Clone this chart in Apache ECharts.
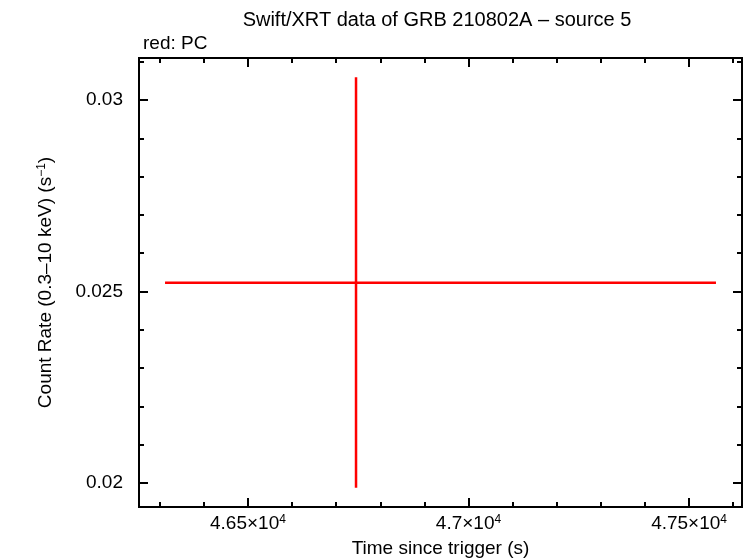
<!DOCTYPE html>
<html>
<head>
<meta charset="utf-8">
<script src="https://cdn.jsdelivr.net/npm/echarts@6/dist/echarts.min.js"></script>
<style>html,body{margin:0;padding:0;background:#fff}#c{width:746px;height:558px}</style>
</head>
<body>
<div id="c"></div>
<script>
// ---- data ----
const pointX = [46745];
const pointXLow = [46312];
const pointXHigh = [47561];
const pointY = [0.02523];
const pointYLow = [0.01987];
const pointYHigh = [0.0306];

const xMajorTicks = [46500, 47000, 47500];
const xTickMantissa = ['4.65', '4.7', '4.75'];
const xMinorTicks = [46300, 46400, 46600, 46700, 46800, 46900, 47100, 47200, 47300, 47400, 47600];
const yMajorTicks = [0.02, 0.025, 0.03];
const yTickLabels = ['0.02', '0.025', '0.03'];
const yMinorTicks = [0.021, 0.022, 0.023, 0.024, 0.026, 0.027, 0.028, 0.029, 0.031];

const xRange = [46253, 47620];
const yRange = [0.01937, 0.0311];

const FONT = 'Liberation Sans, Arial, Helvetica, sans-serif';
const FS = 19;
const SUP = 12;

const chart = echarts.init(document.getElementById('c'), null, {renderer: 'canvas'});

function xAxisDef(pos, ticks, len, showLabel, withName) {
  const a = {
    type: 'value', position: pos, min: xRange[0], max: xRange[1],
    splitLine: {show: false},
    axisLine: {show: true, onZero: false, lineStyle: {color: '#000', width: 2}},
    axisTick: {show: true, inside: true, length: len, lineStyle: {color: '#000', width: 2}, customValues: ticks},
    axisLabel: {show: showLabel, customValues: ticks, margin: 7, color: '#000', fontFamily: FONT, fontSize: FS,
      formatter: function (v) {
        const i = xMajorTicks.indexOf(v);
        return i >= 0 ? '{b|' + xTickMantissa[i] + '×10}{s|4}' : '';
      },
      rich: {
        b: {fontFamily: FONT, fontSize: FS, color: '#000'},
        s: {fontFamily: FONT, fontSize: SUP, color: '#000', verticalAlign: 'top', padding: [0, 0, 7, 0]}
      }
    }
  };
  if (withName) {
    a.name = 'Time since trigger (s)';
    a.nameLocation = 'middle';
    a.nameGap = 32;
    a.nameTextStyle = {fontFamily: FONT, fontSize: FS, color: '#000', verticalAlign: 'top'};
  }
  return a;
}
function yAxisDef(pos, ticks, len, showLabel, withName) {
  const a = {
    type: 'value', position: pos, min: yRange[0], max: yRange[1],
    splitLine: {show: false},
    axisLine: {show: true, onZero: false, lineStyle: {color: '#000', width: 2}},
    axisTick: {show: true, inside: true, length: len, lineStyle: {color: '#000', width: 2}, customValues: ticks},
    axisLabel: {show: showLabel, customValues: ticks, margin: 16, color: '#000', fontFamily: FONT, fontSize: FS,
      formatter: function (v) {
        for (let i = 0; i < yMajorTicks.length; i++) {
          if (Math.abs(yMajorTicks[i] - v) < 1e-9) return yTickLabels[i];
        }
        return '';
      }
    }
  };
  if (withName) {
    a.name = '{b|Count Rate (0.3–10 keV) (s}{s|−1}{b|)}';
    a.nameLocation = 'middle';
    a.nameGap = 84;
    a.nameRotate = 90;
    a.nameTextStyle = {fontFamily: FONT, fontSize: FS, color: '#000',
      rich: {
        b: {fontFamily: FONT, fontSize: FS, color: '#000'},
        s: {fontFamily: FONT, fontSize: SUP, color: '#000', verticalAlign: 'top', padding: [0, 0, 7, 0]}
      }
    };
  }
  return a;
}

const option = {
  animation: false,
  backgroundColor: '#fff',
  title: [
    {text: 'Swift/XRT data of GRB 210802A – source 5', left: 432, top: 5, textAlign: 'center',
      textStyle: {fontFamily: FONT, fontSize: 20, fontWeight: 'normal', color: '#000'}},
    {text: 'red: PC', left: 138, top: 29,
      textStyle: {fontFamily: FONT, fontSize: FS, fontWeight: 'normal', color: '#000'}}
  ],
  grid: {left: 139, right: 4, top: 58, bottom: 51, containLabel: false, outerBoundsMode: 'none'},
  xAxis: [
    xAxisDef('bottom', xMajorTicks, 9, true, true),
    xAxisDef('bottom', xMinorTicks, 5, false, false),
    xAxisDef('top', xMajorTicks, 9, false, false),
    xAxisDef('top', xMinorTicks, 5, false, false)
  ],
  yAxis: [
    yAxisDef('left', yMajorTicks, 9, true, true),
    yAxisDef('left', yMinorTicks, 5, false, false),
    yAxisDef('right', yMajorTicks, 9, false, false),
    yAxisDef('right', yMinorTicks, 5, false, false)
  ],
  series: [{
    type: 'custom',
    xAxisIndex: 0, yAxisIndex: 0,
    data: pointX.map((x, i) => [x, pointY[i], pointXLow[i], pointXHigh[i], pointYLow[i], pointYHigh[i]]),
    encode: {x: [0, 2, 3], y: [1, 4, 5]},
    renderItem: function (params, api) {
      const x = api.value(0), y = api.value(1);
      const pL = api.coord([api.value(2), y]);
      const pR = api.coord([api.value(3), y]);
      const pB = api.coord([x, api.value(4)]);
      const pT = api.coord([x, api.value(5)]);
      const st = {stroke: '#ff0000', lineWidth: 2.5};
      return {
        type: 'group',
        children: [
          {type: 'line', shape: {x1: pL[0], y1: pL[1], x2: pR[0], y2: pR[1]}, style: st},
          {type: 'line', shape: {x1: pB[0], y1: pB[1], x2: pT[0], y2: pT[1]}, style: st}
        ]
      };
    }
  }]
};
chart.setOption(option);
</script>
</body>
</html>
